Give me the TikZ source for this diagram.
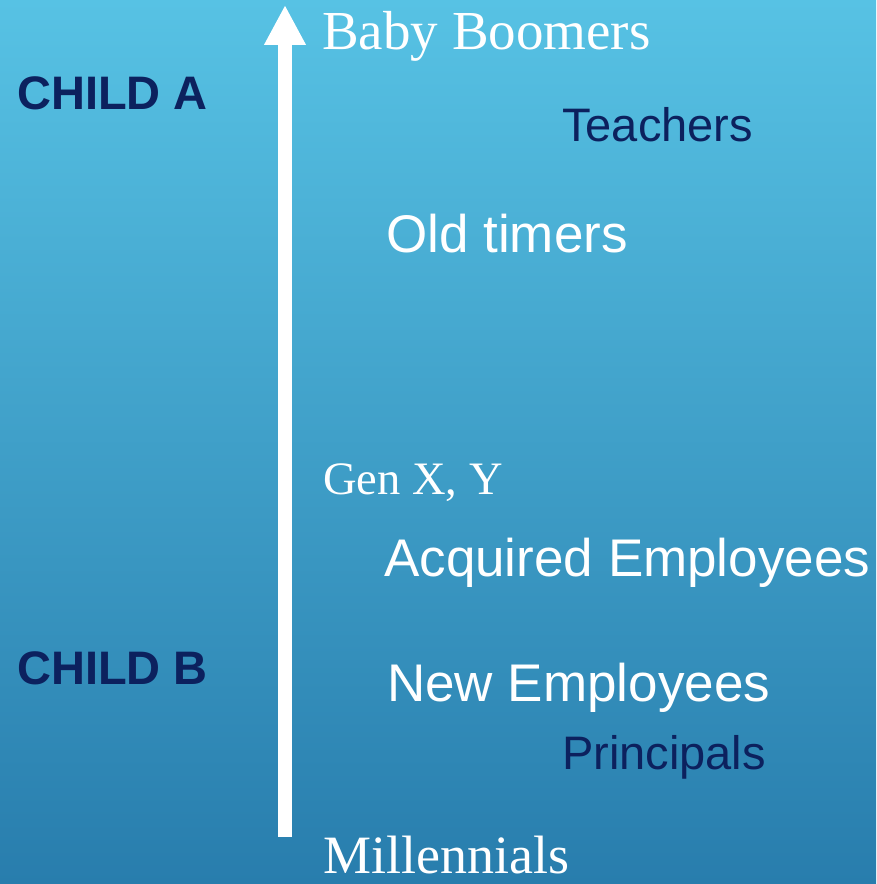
\documentclass[tikz,border=0pt]{standalone}
\usepackage{fontspec}
\setmainfont{Liberation Serif}
\newfontfamily\arialfont{Liberation Sans}
\usetikzlibrary{arrows.meta}
\definecolor{skytop}{RGB}{87,194,228}
\definecolor{skybottom}{RGB}{40,125,173}
\definecolor{navytext}{RGB}{12,33,94}
\newcommand{\fsz}[1]{\fontsize{#1}{#1}\selectfont}

\begin{document}
\begin{tikzpicture}[
    x=1pt, y=1pt,
    every node/.style={inner sep=0pt, anchor=base west},
    era/.style={text=white, font=\fsz{55}},
    group/.style={text=white, font=\arialfont\fsz{53}},
    role/.style={text=navytext, font=\arialfont\fsz{47}},
    child/.style={text=navytext, font=\arialfont\bfseries\fsz{47}},
    axis/.style={white, line width=14pt,
                 -{Triangle[width=39pt, length=40pt]}},
]
    % Backdrop.
    \shade[top color=skytop, bottom color=skybottom] (0,0) rectangle (876,884);
    \useasboundingbox (0,0) rectangle (876,884);

    % Generations along the axis.
    \node[era] (boomers)     at (322, 834) {Baby Boomers};
    \node[era, font=\fsz{46.5}] (genxy) at (323, 389) {Gen X, Y};
    \node[era, font=\fsz{54}] (millennials) at (323, 10) {Millennials};

    % Children.
    \node[child] (childA) at (17, 774) {CHILD A};
    \node[child] (childB) at (17, 199) {CHILD B};

    % Groups.
    \node[role]  (teachers)   at (562, 742) {Teachers};
    \node[group] (oldtimers)  at (386, 631) {Old timers};
    \node[group] (acquired)   at (384, 307) {Acquired Employees};
    \node[group] (newemp)     at (387, 182) {New Employees};
    \node[role]  (principals) at (562, 114) {Principals};

    % Time axis.
    \coordinate (axisbottom) at (285, 47);
    \coordinate (axistop)    at (285, 879);
    \draw[axis] (axisbottom) -- (axistop);
\end{tikzpicture}
\end{document}
